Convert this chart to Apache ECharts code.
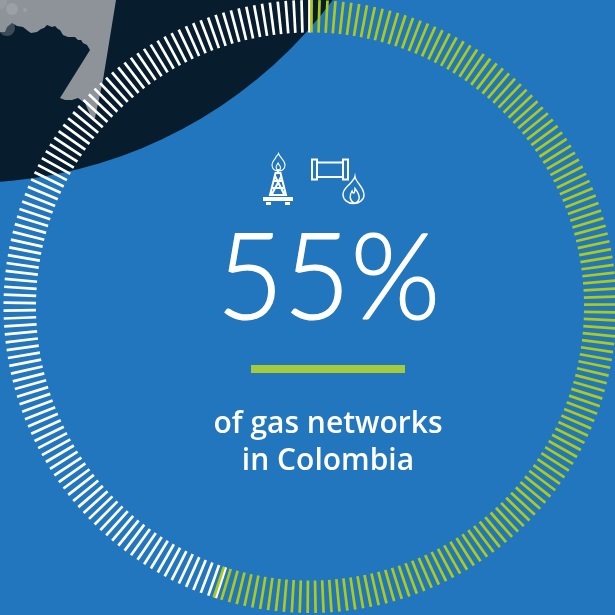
<!DOCTYPE html>
<html>
<head>
<meta charset="utf-8">
<style>html,body{margin:0;padding:0;background:#2176bd}#chart{width:615px;height:615px}</style>
<script src="https://cdn.jsdelivr.net/npm/echarts@6/dist/echarts.min.js"></script>
</head>
<body>
<div id="chart"></div>
<script>
// Share of gas networks: the stated share in green, the remainder in white.
const shareLabels = ['55%', 'of gas networks', 'in Colombia'];
const shareValues = [55, 45];
const degreesPerTick = 1.49;

const WHITE = '#ffffff';
const GREEN = '#aeca12';
const CX = 310, CY = 306.5, OUTER = 306.5, TICK_LEN = 32.5;

// One radial tick ring spanning the given arc, with the value as its data.
function tickRing(value, startAngle, endAngle, color) {
  const sweep = startAngle - endAngle;
  return {
    type: 'gauge',
    center: [CX, CY],
    radius: OUTER,
    min: 0,
    max: value,
    startAngle: startAngle,
    endAngle: endAngle,
    splitNumber: Math.round(sweep / degreesPerTick),
    silent: true,
    animation: false,
    axisLine: { show: false, lineStyle: { width: 0 } },
    progress: { show: false },
    pointer: { show: false },
    anchor: { show: false },
    axisTick: { show: false },
    axisLabel: { show: false },
    title: { show: false },
    detail: { show: false },
    splitLine: { show: true, distance: 0, length: TICK_LEN, lineStyle: { color: color, width: 2.7, cap: 'butt' } },
    data: [{ value: value }]
  };
}

const greenSweep = shareValues[0] / 100 * 360;
const whiteSweep = shareValues[1] / 100 * 360;

const coastline = [[0,0],[116,0],[103,80],[95,118],[92,119],[85,103],[78,98],[72,100],[65,100],[60,98],[90,50],[87,45],[83,43],[81,40],[78,40],[75,37],[72,37],[68,37],[63,35],[60,30],[58,29],[55,26],[52,27],[47,25],[44,28],[41,29],[37,32],[31,33],[28,31],[23,27],[17,26],[12,23],[7,27],[5,32],[0,32]];

// Icon outlines, registered as graphic shapes
const iconPaths = {
  derrick: 'M278 173 L278 169 M275.5 173 L280.5 173 L286 195 L270 195 Z M274 181 L283 181 M272.5 188 L284.5 188 M275 176 L284 194 M281.5 176 L272 194',
  smallFlame: 'M278.5 153.5 C280 158 285 160 285 165 C285 169 282 171 278.5 171 C275 171 272 169 272 165 C272 161 275 160 276 157 C277 155 278 155 278.5 153.5 Z M278 171 C275 168 276 166 278 163 C278.5 165 281 166 280.5 168 C280 170 279 171 278 171',
  pipe: 'M317 162.5 L343 162.5 M317 177 L343 177',
  bigFlame: 'M355 176.5 C356 183 364 187 364 195 C364 200 359 203.5 353.5 203.5 C347.5 203.5 343 199.5 343 194.5 C343 189 348 186.5 351 182.5 C353 180 354.5 179 355 176.5 Z M354 203 C349 200 349.5 195 352 191 C352.5 193 354 194 354.5 192 C355 190.5 355 189.5 355 188.5 C357 191 360 195 359 199 C358.5 201 356.5 203 354 203'
};
Object.keys(iconPaths).forEach(function (name) {
  echarts.graphic.registerShape(name, echarts.graphic.extendPath(iconPaths[name], {}));
});

const chart = echarts.init(document.getElementById('chart'), null, { renderer: 'canvas' });
chart.setOption({
  animation: false,
  backgroundColor: '#2176bd',
  graphic: [
    // Dark globe and the landmass behind the ring
    { type: 'circle', z: 0, shape: { cx: -33, cy: -274, r: 457 }, style: { fill: '#071c2c' } },
    { type: 'polygon', z: 0, shape: { points: coastline }, style: { fill: '#8d9399' } },
    { type: 'circle', z: 0, shape: { cx: 12, cy: 9, r: 6 }, style: { fill: '#a3a8ac', opacity: 0.6 } },
    { type: 'circle', z: 0, shape: { cx: 25, cy: 10, r: 2 }, style: { fill: '#a3a8ac', opacity: 0.6 } },
    { type: 'circle', z: 0, shape: { cx: 0, cy: 2, r: 7 }, style: { fill: '#a3a8ac', opacity: 0.4 } },
    { type: 'circle', z: 0, shape: { cx: 7, cy: 28, r: 8 }, style: { fill: '#8d9399', opacity: 0.4 } },

    // Gas derrick icon
    { type: 'derrick', z: 5, style: { fill: null, stroke: WHITE, lineWidth: 2 } },
    { type: 'smallFlame', z: 5, style: { fill: null, stroke: WHITE, lineWidth: 1.1 } },
    { type: 'rect', z: 5, shape: { x: 263, y: 197, width: 30, height: 4 }, style: { fill: WHITE } },
    { type: 'rect', z: 5, shape: { x: 266, y: 202, width: 5, height: 3 }, style: { fill: WHITE } },
    { type: 'rect', z: 5, shape: { x: 285, y: 202, width: 5, height: 3 }, style: { fill: WHITE } },

    // Pipeline icon
    { type: 'rect', z: 5, shape: { x: 312, y: 159.5, width: 5, height: 20 }, style: { fill: null, stroke: WHITE, lineWidth: 2 } },
    { type: 'rect', z: 5, shape: { x: 343, y: 159.5, width: 5, height: 20 }, style: { fill: null, stroke: WHITE, lineWidth: 2 } },
    { type: 'pipe', z: 5, style: { fill: null, stroke: WHITE, lineWidth: 2 } },
    { type: 'bigFlame', z: 5, style: { fill: null, stroke: WHITE, lineWidth: 1.4 } },

    // Central figure, divider and caption
    { type: 'text', z: 5, x: 328.5, y: 280, scaleX: 0.96, style: { text: shareLabels[0], fill: WHITE, stroke: WHITE, lineWidth: 1.2, font: '300 120px Lato', align: 'center', verticalAlign: 'middle' } },
    { type: 'rect', z: 5, shape: { x: 251, y: 365, width: 154, height: 8 }, style: { fill: '#a4cb3a' } },
    { type: 'text', z: 5, x: 328, y: 424, style: { text: shareLabels[1], fill: WHITE, font: '600 30px "Open Sans"', align: 'center', verticalAlign: 'middle' } },
    { type: 'text', z: 5, x: 328, y: 461, style: { text: shareLabels[2], fill: WHITE, font: '600 30px "Open Sans"', align: 'center', verticalAlign: 'middle' } }
  ],
  series: [
    tickRing(shareValues[1], 90.1 + whiteSweep, 90.1, WHITE),
    tickRing(shareValues[0], 89.7, 89.7 - greenSweep, GREEN)
  ]
});
</script>
</body>
</html>
